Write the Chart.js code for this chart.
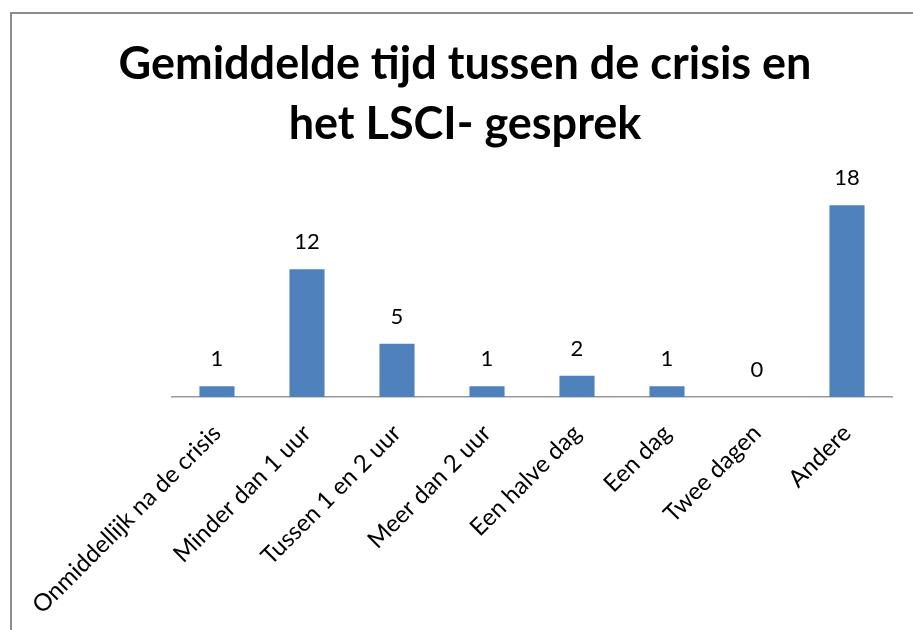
<!DOCTYPE html>
<html>
<head>
<meta charset="utf-8">
<script src="https://cdn.jsdelivr.net/npm/chart.js@4.4.0/dist/chart.umd.min.js"></script>
<style>
  html, body { margin: 0; padding: 0; background: #ffffff; }
  #wrap { width: 913px; height: 630px; position: relative; }
</style>
</head>
<body>
<div id="wrap"><canvas id="c" width="913" height="630"></canvas></div>
<script>
const titleLines = ["Gemiddelde tijd tussen de crisis en", "het LSCI- gesprek"];
const categories = [
  "Onmiddellijk na de crisis",
  "Minder dan 1 uur",
  "Tussen 1 en 2 uur",
  "Meer dan 2 uur",
  "Een halve dag",
  "Een dag",
  "Twee dagen",
  "Andere"
];
const values = [1, 12, 5, 1, 2, 1, 0, 18];
const yMin = 0;
const yMax = 20;

const FONT = "Lato, 'Open Sans', sans-serif";

const framePlugin = {
  id: 'frame',
  beforeDraw(chart) {
    const ctx = chart.ctx;
    ctx.save();
    ctx.fillStyle = '#ffffff';
    ctx.fillRect(0, 0, chart.width, chart.height);
    ctx.strokeStyle = '#8c8c8c';
    ctx.lineWidth = 2;
    ctx.strokeRect(11, 13, 2000, 2000);
    ctx.restore();
  }
};

const valueLabelPlugin = {
  id: 'valueLabels',
  afterDatasetsDraw(chart) {
    const ctx = chart.ctx;
    const meta = chart.getDatasetMeta(0);
    ctx.save();
    ctx.font = "22px " + FONT;
    ctx.fillStyle = '#000000';
    ctx.textAlign = 'center';
    ctx.textBaseline = 'middle';
    meta.data.forEach((bar, i) => {
      ctx.fillText(String(chart.data.datasets[0].data[i]), bar.x, bar.y - 27);
    });
    ctx.restore();
  }
};

new Chart(document.getElementById('c'), {
  type: 'bar',
  data: {
    labels: categories,
    datasets: [{
      data: values,
      backgroundColor: '#4F81BD',
      borderWidth: 0,
      categoryPercentage: 1.0,
      barPercentage: 0.39
    }]
  },
  options: {
    responsive: false,
    animation: false,
    devicePixelRatio: 1,
    layout: { padding: { left: 38, right: 21, top: 34, bottom: 0 } },
    plugins: {
      legend: { display: false },
      tooltip: { enabled: false },
      title: {
        display: true,
        text: titleLines,
        color: '#000000',
        font: { family: FONT, size: 45, weight: 'bold', lineHeight: 60 / 45 },
        padding: { top: 0, bottom: 30 },
        align: 'center'
      }
    },
    scales: {
      x: {
        offset: true,
        grid: { display: false, drawTicks: false },
        border: { display: true, color: '#9a9a9a', width: 1.5 },
        ticks: {
          color: '#000000',
          font: { family: FONT, size: 24 },
          maxRotation: 45,
          minRotation: 45,
          autoSkip: false,
          padding: 22
        },
        afterFit(axis) { axis.height = 233; }
      },
      y: {
        min: yMin,
        max: yMax,
        display: true,
        grid: { display: false, drawTicks: false },
        border: { display: false },
        ticks: { display: false },
        afterFit(axis) { axis.width = 134; }
      }
    }
  },
  plugins: [framePlugin, valueLabelPlugin]
});
</script>
</body>
</html>
